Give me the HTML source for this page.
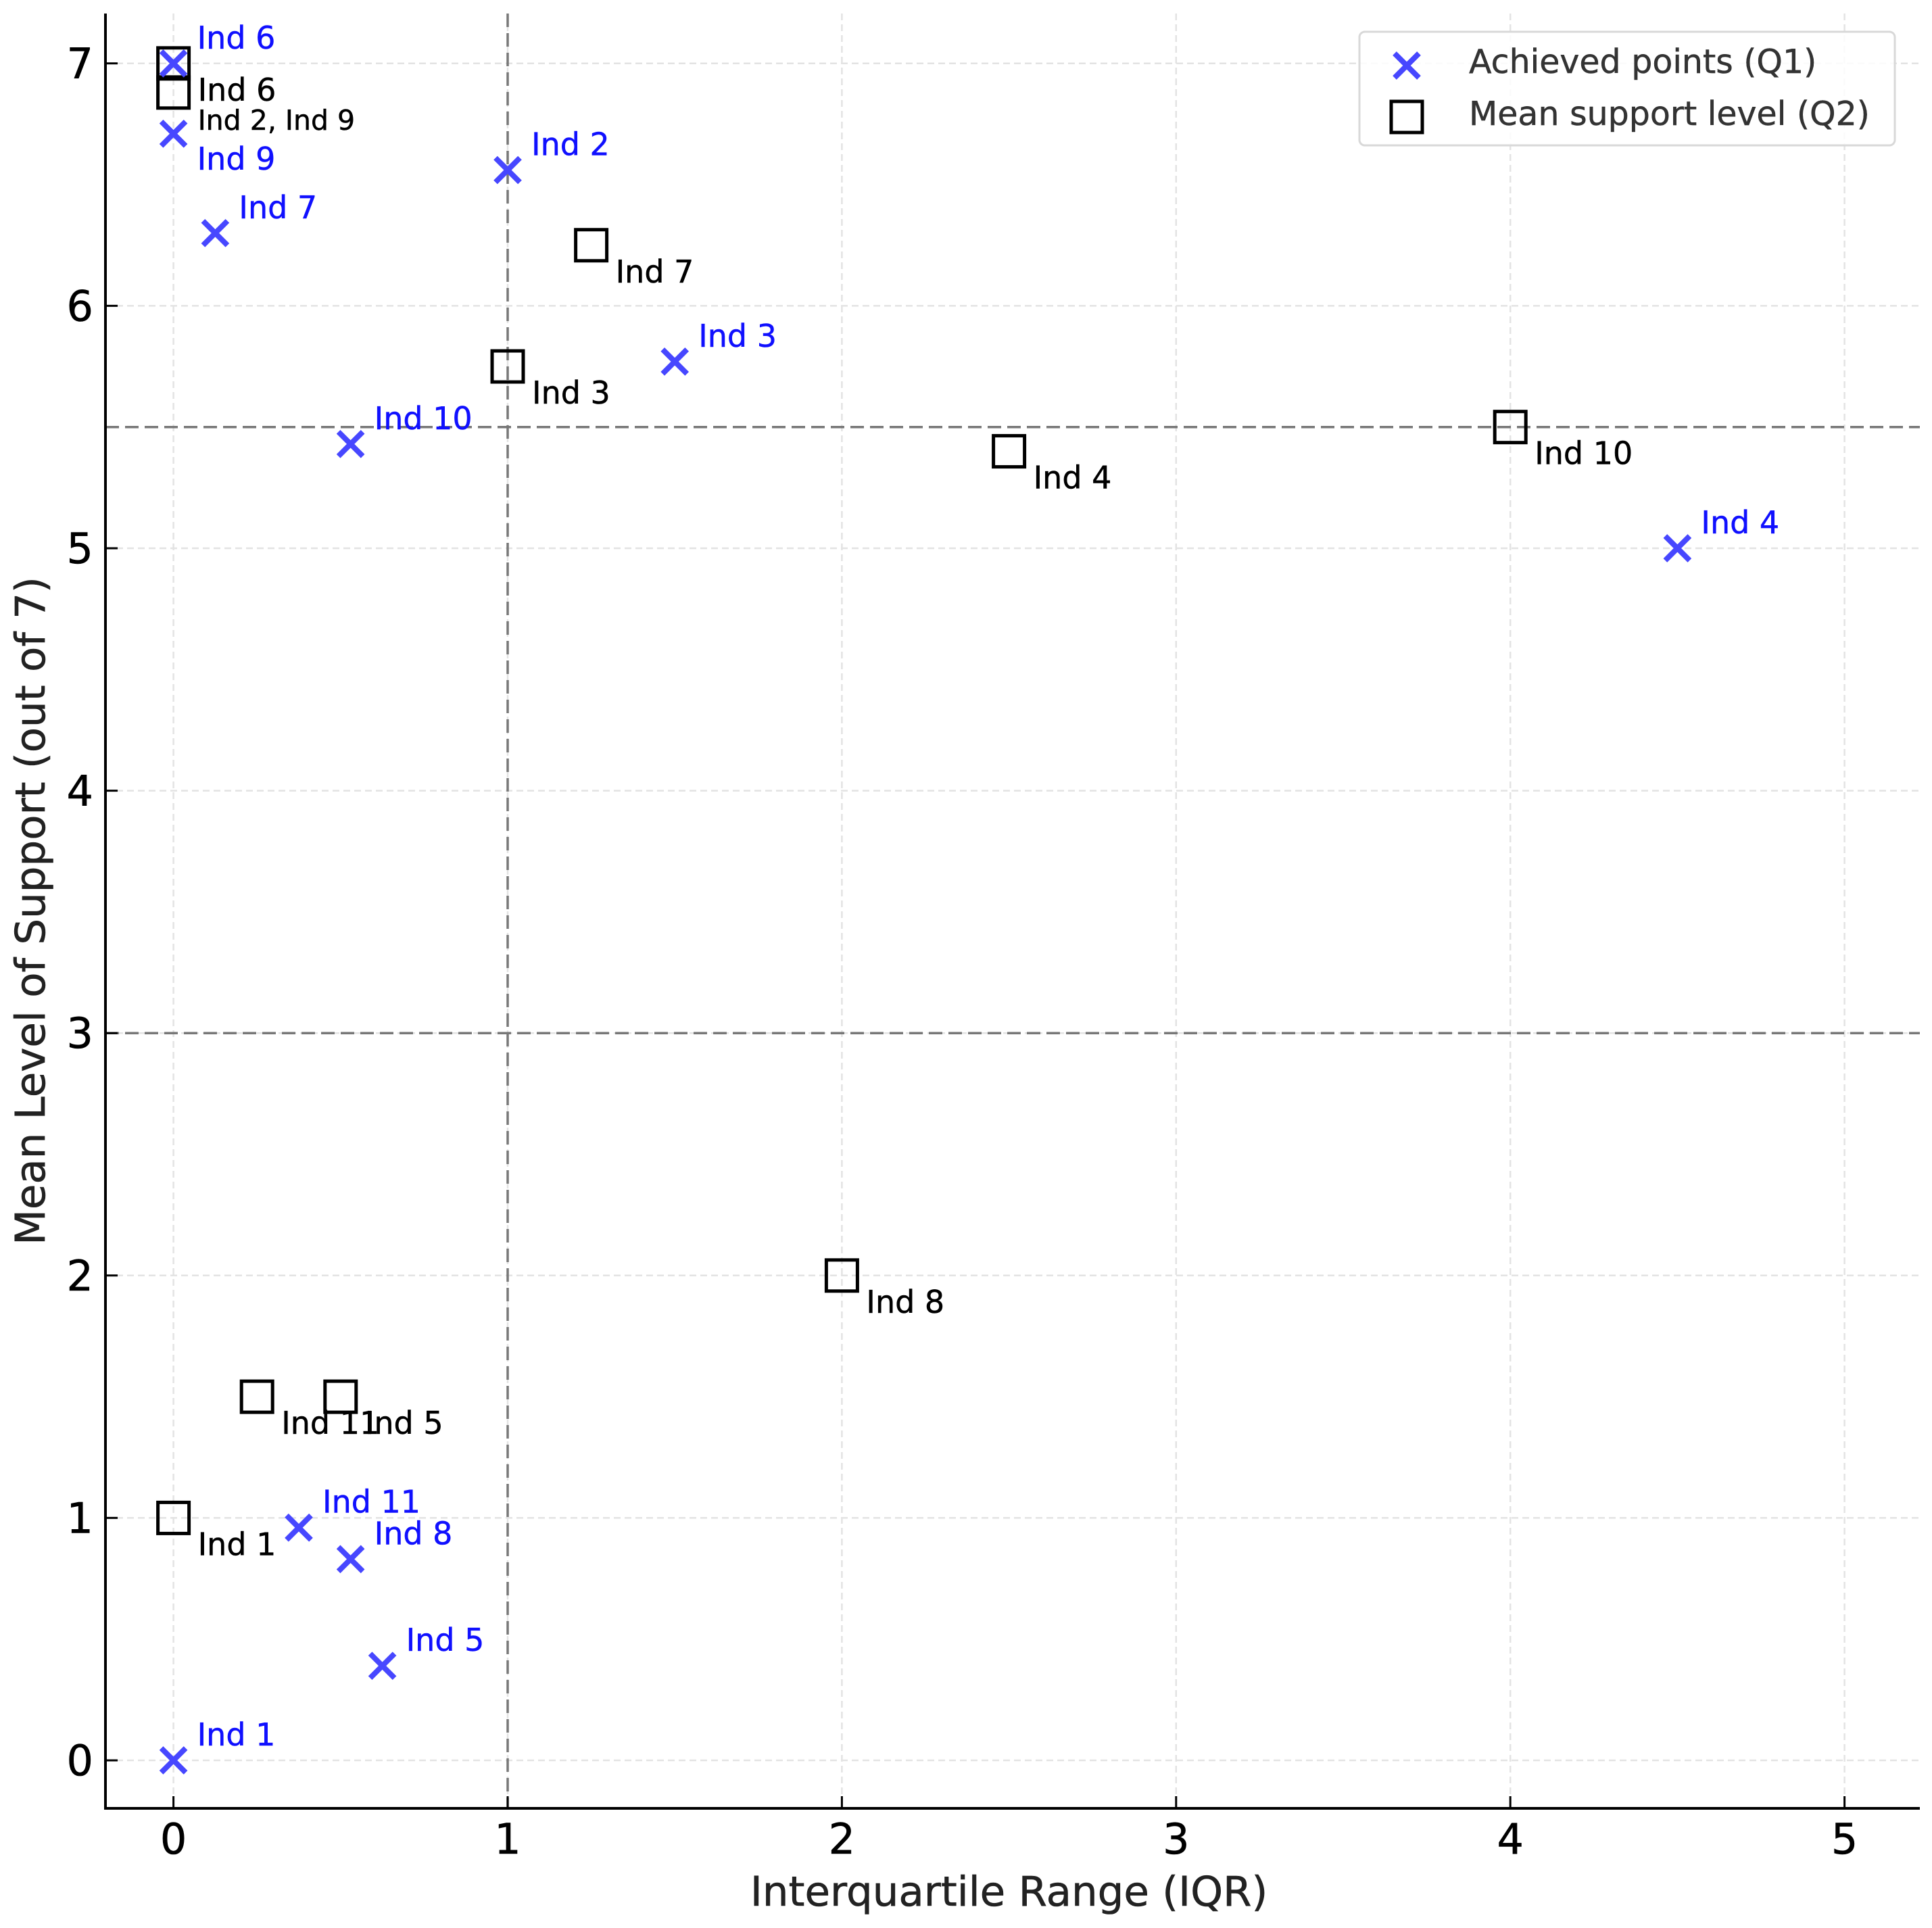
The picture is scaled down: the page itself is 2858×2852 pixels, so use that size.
<!DOCTYPE html>
<html><head><meta charset="utf-8"><style>
html,body{margin:0;padding:0;background:#fff}
svg{display:block}
text{font-family:"DejaVu Sans","Liberation Sans",sans-serif}
</style></head><body>
<svg id="chart" width="2858" height="2852" viewBox="0 0 2858 2852" xmlns="http://www.w3.org/2000/svg">
<rect width="2858" height="2852" fill="#fff"/>
<g id="grid"></g><g id="refs"></g><g id="axes"></g><g id="marks"></g><g id="legend"></g>
</svg>
<script>
const xTicks=[0,1,2,3,4,5];
const yTicks=[0,1,2,3,4,5,6,7];
const q1Labels=["Ind 1","Ind 2","Ind 3","Ind 4","Ind 5","Ind 6","Ind 7","Ind 8","Ind 9","Ind 10","Ind 11"];
const q1X=[0,1,1.5,4.5,0.625,0,0.125,0.53,0,0.53,0.375];
const q1Y=[0,6.56,5.77,5.0,0.39,7,6.3,0.83,6.71,5.43,0.96];
const q1LabelBelow=[false,false,false,false,false,false,false,false,true,false,false];
const q2Labels=["Ind 1","Ind 2, Ind 9","Ind 3","Ind 4","Ind 5","Ind 6","Ind 7","Ind 8","Ind 10","Ind 11"];
const q2X=[0,0,1,2.5,0.5,0,1.25,2,4,0.25];
const q2Y=[1,6.88,5.75,5.4,1.5,7,6.25,2,5.5,1.5];
const refX=[1];
const refY=[5.5,3];

const NS="http://www.w3.org/2000/svg";
const L=156,R=2840,T=20,B=2675;
const xs=v=>256.6+494.4*v;
const ys=v=>2604-358.6*v;
function mk(tag,attrs,parent,txt){const e=document.createElementNS(NS,tag);for(const k in attrs)e.setAttribute(k,attrs[k]);if(txt!==undefined)e.textContent=txt;parent.appendChild(e);return e;}
const grid=document.getElementById('grid'),refs=document.getElementById('refs'),axes=document.getElementById('axes'),marks=document.getElementById('marks'),leg=document.getElementById('legend');

xTicks.forEach(t=>{
 let g=mk('line',{x1:xs(t),x2:xs(t),y1:T,y2:B,stroke:'#e3e3e3','stroke-width':2.5,'stroke-dasharray':'10,6'},grid);
 
 let tk=mk('line',{x1:xs(t),x2:xs(t),y1:B,y2:B-18,stroke:'#000','stroke-width':3},axes);
 
 let tl=mk('text',{x:xs(t),y:2742,'font-size':62,'text-anchor':'middle',fill:'#000','stroke':'#000','stroke-width':0.6},axes,String(t));
 
});
yTicks.forEach(t=>{
 let g=mk('line',{x1:L,x2:R,y1:ys(t),y2:ys(t),stroke:'#e3e3e3','stroke-width':2.5,'stroke-dasharray':'10,6'},grid);
 
 let tk=mk('line',{x1:L,x2:L+18,y1:ys(t),y2:ys(t),stroke:'#000','stroke-width':3},axes);
 
 let tl=mk('text',{x:138,y:ys(t)+22,'font-size':62,'text-anchor':'end',fill:'#000','stroke':'#000','stroke-width':0.6},axes,String(t));
 
});
refX.forEach(v=>{let l=mk('line',{x1:xs(v),x2:xs(v),y1:T,y2:B,stroke:'#777','stroke-width':3.5,'stroke-dasharray':'20,9'},refs);
 });
refY.forEach(v=>{let l=mk('line',{x1:L,x2:R,y1:ys(v),y2:ys(v),stroke:'#777','stroke-width':3.5,'stroke-dasharray':'20,9'},refs);
 });

let sp=mk('path',{d:`M${L},${T} V${B} H${R}`,fill:'none',stroke:'#000','stroke-width':4},axes);

let xl=mk('text',{x:xs(2.5),y:2819,'font-size':61,'text-anchor':'middle',fill:'#222','stroke':'#222','stroke-width':0.6},axes,'Interquartile Range (IQR)');

let yl=mk('text',{x:0,y:0,'font-size':61,'text-anchor':'middle',fill:'#222','stroke':'#222','stroke-width':0.6,transform:`translate(66,${(T+B)/2}) rotate(-90)`},axes,'Mean Level of Support (out of 7)');


const S=23;
q2X.forEach((v,i)=>{
 const cx=xs(v),cy=ys(q2Y[i]);
 let r=mk('rect',{x:cx-S,y:cy-S,width:2*S,height:2*S,fill:'none',stroke:'#000','stroke-width':5},marks);
 
 const small=q2Labels[i].indexOf(',')>=0;
 let t=mk('text',{x:cx+36,y:cy+55,'font-size':small?41:46,fill:'#000','stroke':'#000','stroke-width':0.5},marks,q2Labels[i]);
 
});
const H=18;
q1X.forEach((v,i)=>{
 const cx=xs(v),cy=ys(q1Y[i]);
 let p=mk('path',{d:`M${cx-H},${cy-H}L${cx+H},${cy+H}M${cx-H},${cy+H}L${cx+H},${cy-H}`,stroke:'#4747ff','stroke-width':8,fill:'none'},marks);
 
 let t=mk('text',{x:cx+35,y:q1LabelBelow[i]?cy+53:cy-22,'font-size':46,fill:'#1010ff','stroke':'#1010ff','stroke-width':0.5},marks,q1Labels[i]);
 
});

let lb=mk('rect',{x:2011,y:47,width:792,height:168,rx:8,fill:'#fff','fill-opacity':0.85,stroke:'#d8d8d8','stroke-width':3},leg);

let lx=mk('path',{d:'M2063,79L2099,115M2063,115L2099,79',stroke:'#4747ff','stroke-width':8,fill:'none'},leg);

let lt1=mk('text',{x:2173,y:108,'font-size':49,fill:'#333','stroke':'#333','stroke-width':0.5},leg,'Achieved points (Q1)');

let ls=mk('rect',{x:2058,y:150,width:46,height:46,fill:'none',stroke:'#000','stroke-width':5},leg);

let lt2=mk('text',{x:2173,y:185,'font-size':49,fill:'#333','stroke':'#333','stroke-width':0.5},leg,'Mean support level (Q2)');

</script>
</body></html>
